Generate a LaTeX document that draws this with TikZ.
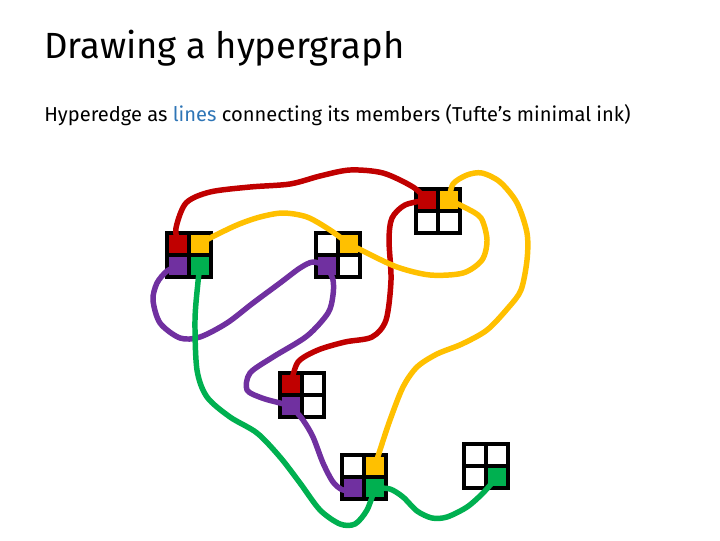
\documentclass[tikz,border=0pt]{standalone}
\usepackage{fontspec}
\setmainfont{Fira Sans}
\definecolor{hred}{HTML}{C00000}
\definecolor{hyel}{HTML}{FFC000}
\definecolor{hpur}{HTML}{7030A0}
\definecolor{hgrn}{HTML}{00B050}
\definecolor{hblue}{HTML}{2E75B6}
\tikzset{
  cell/.style={draw=black, line width=2.6pt, minimum size=0.55cm, inner sep=0pt, outer sep=0pt},
  edge/.style={line width=3.9pt, line cap=round, line join=round},
}
\newcommand\hnode[7]{%
  \node[cell,fill=#4] (#1-tl) at (#2-11,#3-11) {};
  \node[cell,fill=#5] (#1-tr) at (#2+11,#3-11) {};
  \node[cell,fill=#6] (#1-bl) at (#2-11,#3+11) {};
  \node[cell,fill=#7] (#1-br) at (#2+11,#3+11) {};
}
\begin{document}
\begin{tikzpicture}[x=0.025cm,y=-0.025cm]
\useasboundingbox (0,0) rectangle (720,540);
\node[anchor=base west, inner sep=0pt, font=\fontsize{25.9}{30}\selectfont] (title) at (44,58) {Drawing a hypergraph};
\node[anchor=base west, inner sep=0pt, font=\fontsize{14.3}{17}\selectfont] (sub) at (44,121) {Hyperedge as \textcolor{hblue}{lines} connecting its members (Tufte’s minimal ink)};

\hnode{A}{189}{255}{hred}{hyel}{hpur}{hgrn}
\hnode{B}{338}{255}{white}{hyel}{hpur}{white}
\hnode{C}{438}{211}{hred}{hyel}{white}{white}
\hnode{D}{302}{395}{hred}{white}{hpur}{white}
\hnode{E}{364}{477}{white}{hyel}{hpur}{hgrn}
\hnode{F}{486}{466}{white}{white}{white}{hgrn}

% red
\draw[edge,hred] plot[smooth] coordinates {(A-tl.center) (176,228) (186,203) (210,192) (250,187) (290,184) (320,176) (350,170) (383,173) (413,187) (C-tl.center)};
\draw[edge,hred] plot[smooth] coordinates {(C-tl.center) (405,205) (392,218) (389,240) (391,280) (386,320) (372,337) (345,342) (318,350) (298,362) (D-tl.center)};
% purple
\draw[edge,hpur] plot[smooth] coordinates {(A-bl.center) (167,271) (157,283) (153,300) (160,323) (180,338) (200,337) (227,323) (253,303) (280,283) (300,268) (313,262) (B-bl.center)};
\draw[edge,hpur] plot[smooth] coordinates {(B-bl.center) (333,280) (333,295) (328,313) (307,336) (273,357) (250,373) (247,390) (262,398) (280,403) (D-bl.center)};
\draw[edge,hpur] plot[smooth] coordinates {(D-bl.center) (303,420) (313,437) (323,463) (333,482) (343,490) (E-bl.center)};
% green
\draw[edge,hgrn] plot[smooth] coordinates {(A-br.center) (198,282) (195,320) (197,370) (207,397) (230,417) (257,433) (280,457) (300,483) (320,510) (340,524) (355,524) (367,510) (E-br.center)};
\draw[edge,hgrn] plot[smooth] coordinates {(E-br.center) (390,489) (403,497) (417,511) (432,518) (447,517) (467,507) (483,493) (F-br.center)};
% yellow
\draw[edge,hyel] plot[smooth] coordinates {(A-tr.center) (210,238) (237,225) (260,217) (283,213) (307,217) (330,230) (B-tr.center)};
\draw[edge,hyel] plot[smooth] coordinates {(B-tr.center) (365,252) (397,267) (430,275) (463,273) (482,260) (487,240) (481,218) (466,208) (C-tr.center)};
\draw[edge,hyel] plot[smooth] coordinates {(C-tr.center) (453,184) (467,175) (482,173) (500,182) (517,203) (527,233) (527,260) (521,290) (508,308) (487,330) (462,344) (437,354) (417,367) (403,387) (390,420) (380,450) (E-tr.center)};
\end{tikzpicture}
\end{document}
